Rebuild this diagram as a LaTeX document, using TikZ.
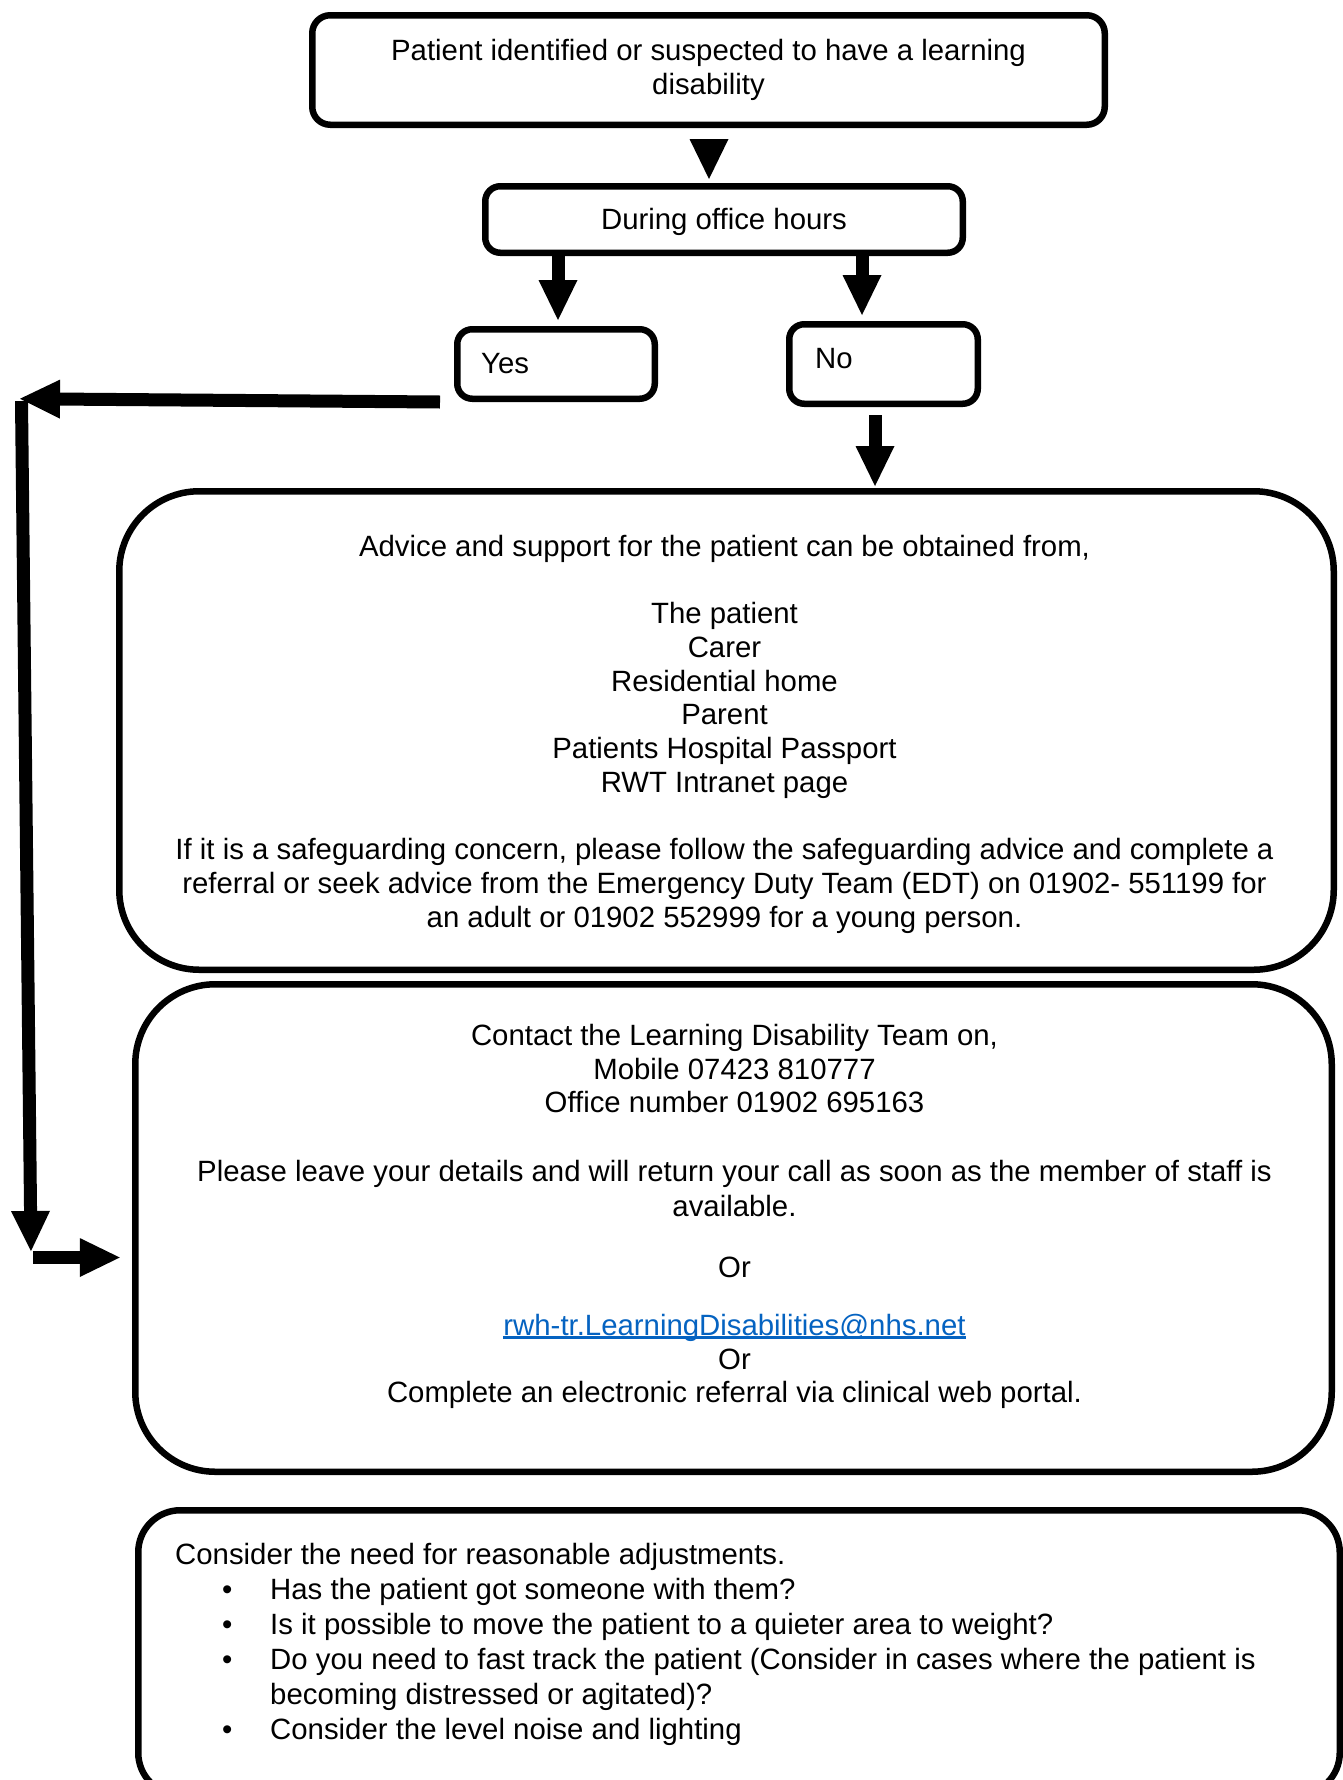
\documentclass[tikz,border=0pt]{standalone}
\usepackage{fontspec}
\setmainfont{Liberation Sans}
\usetikzlibrary{arrows.meta,calc}
\definecolor{linkblue}{HTML}{0563C1}
\newcommand\myul[1]{\setbox0\hbox{#1}\rlap{\rule[-3.5pt]{\wd0}{2.5pt}}\box0}
\newcommand\bul{\makebox[95pt][l]{\hspace*{47pt}•}}
\newcommand\bulind{\hspace*{95pt}}
\begin{document}
\begin{tikzpicture}[x=1pt,y=-1pt,
  box/.style={draw, line width=6.5pt, rounded corners=15pt, inner sep=0pt},
  txt/.style={inner sep=0pt, font=\fontsize{29.35}{33.7}\selectfont},
  arr/.style={line width=13pt, -{Triangle[length=40pt,width=39pt,line width=0pt 0 0]}}]
\useasboundingbox (0,0) rectangle (1343,1780);
\fill[white] (0,0) rectangle (1343,1780);
\clip (0,0) rectangle (1343,1780);

% boxes
\node[box, rounded corners=18pt, minimum width=792.5pt, minimum height=109.5pt] (top) at (708.5,70) {};
\node[box, minimum width=477.5pt, minimum height=66.5pt] (dur) at (724,219.5) {};
\node[box, minimum width=197.5pt, minimum height=69.5pt] (yes) at (556,364) {};
\node[box, minimum width=188.5pt, minimum height=79.5pt] (no) at (883.5,364) {};
\node[box, rounded corners=80pt, minimum width=1214.5pt, minimum height=478.5pt] (box1) at (726.5,730.5) {};
\node[box, rounded corners=80pt, minimum width=1196.5pt, minimum height=487.5pt] (box2) at (733.5,1228) {};
\node[box, rounded corners=42pt, minimum width=1201.5pt, minimum height=284.5pt] (box3) at (739,1652.5) {};

% texts
\node[txt, anchor=north, align=center] (ttop) at (708.5,39.5) {Patient identified or suspected to have a learning\\disability};
\node[txt, anchor=north] (tdur) at (724,208) {During office hours};
\node[txt, anchor=north west] (tyes) at (481,353) {Yes};
\node[txt, anchor=north west] (tno) at (815,348) {No};
\node[txt, anchor=north, align=center] (tbox1) at (724.5,535) {Advice and support for the patient can be obtained from,\\[33.7pt]
The patient\\
Carer\\
Residential home\\
Parent\\
Patients Hospital Passport\\
RWT Intranet page\\[33.7pt]
If it is a safeguarding concern, please follow the safeguarding advice and complete a\\
referral or seek advice from the Emergency Duty Team (EDT) on 01902- 551199 for\\
an adult or 01902 552999 for a young person.};
\node[txt, anchor=north, align=center] (tbox2) at (734.5,1024) {Contact the Learning Disability Team on,\\
Mobile 07423 810777\\
Office number 01902 695163\\[34.9pt]
Please leave your details and will return your call as soon as the member of staff is\\[1.3pt]
available.\\[27.3pt]
Or\\[24.3pt]
{\color{linkblue}\myul{rwh-tr.LearningDisabilities@nhs.net}}\\
Or\\
Complete an electronic referral via clinical web portal.};
\node[txt, anchor=north west, align=left, font=\fontsize{29.35}{35}\selectfont] (tbox3) at (175,1543) {Consider the need for reasonable adjustments.\\
\bul Has the patient got someone with them?\\
\bul Is it possible to move the patient to a quieter area to weight?\\
\bul Do you need to fast track the patient (Consider in cases where the patient is\\
\bulind becoming distressed or agitated)?\\
\bul Consider the level noise and lighting};

% connectors
\draw[arr] ($(top.south)+(0.5,16.5)$) -- ($(dur.north)+(-15,-4)$);
\draw[arr] ($(dur.south)+(-166,0)$) -- ($(yes.north)+(2,-6)$);
\draw[arr] ($(dur.south)+(138,0)$) -- ($(no.north)+(-21.5,-6)$);
\draw[arr] ($(no.south)+(-8.5,8)$) -- ($(box1.north)+(148.5,-2)$);
\coordinate (c1) at (20,398.75);
\coordinate (c2) at (21.5,401);
\coordinate (c3) at (31,1251);
\coordinate (c4) at (33,1257.5);
\draw[arr] ($(yes.south west)+(-14,0)$) -- (c1);
\draw[arr] (c2) -- (c3);
\draw[arr] (c4) -- ($(box2.west)+(-12.25,29.5)$);
\end{tikzpicture}
\end{document}
